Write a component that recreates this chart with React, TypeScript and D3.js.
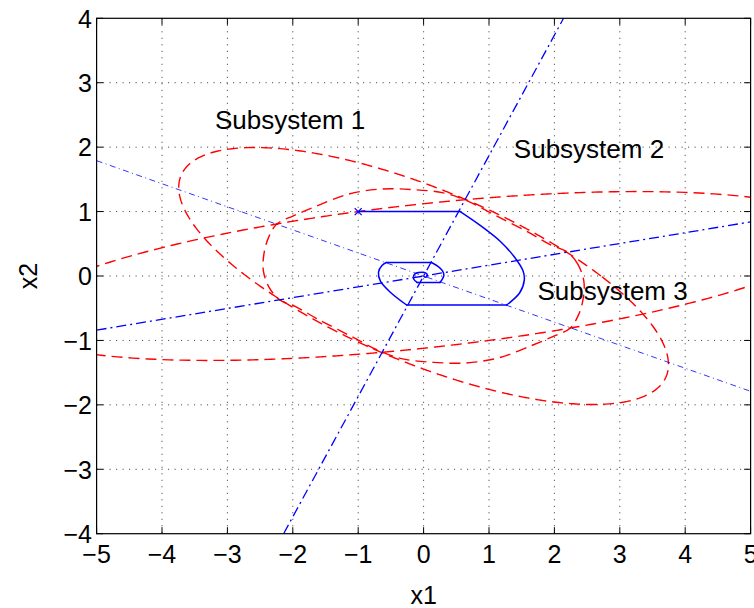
import React from 'react';
import * as d3 from 'd3';

const W = 754;
const H = 608;

// axis ticks
const xTicks = [-5, -4, -3, -2, -1, 0, 1, 2, 3, 4, 5];
const yTicks = [-4, -3, -2, -1, 0, 1, 2, 3, 4];

// switching lines through the origin (end points in state coordinates)
const switchLine1 = [[-5, 1.79], [5, -1.79]];
const switchLine2 = [[-5, -0.84], [5, 0.84]];
const switchLine3 = [[-2.14, -4], [2.14, 4]];

// level sets a*x1^2 + 2*b*x1*x2 + c*x2^2 = 1, coefficients [a, b, c]
const levelSetA = [0.136, 0.176, 0.479];
const levelSetB = [0.0342, -0.0853, 0.795];

// piecewise level set, traced around the origin
const levelSetC = [
  [2.45, -0.08], [2.36, 0.18], [2.2, 0.37], [1.95, 0.48], [1.6, 0.68], [1.1, 0.94],
  [0.66, 1.17], [0.3, 1.29], [-0.15, 1.34], [-0.65, 1.35], [-1.15, 1.27], [-1.65, 1.08],
  [-2.0, 0.93], [-2.24, 0.81], [-2.37, 0.6], [-2.44, 0.35], [-2.45, 0.08], [-2.36, -0.18],
  [-2.2, -0.37], [-1.95, -0.48], [-1.6, -0.68], [-1.1, -0.94], [-0.66, -1.17], [-0.3, -1.29],
  [0.15, -1.34], [0.65, -1.35], [1.15, -1.27], [1.65, -1.08], [2.0, -0.93], [2.24, -0.81],
  [2.37, -0.6], [2.44, -0.35],
];

// state trajectory from x0 = (-1, 1), split into straight runs and arcs
const trajStart = [-1, 1];
const trajPieces = [
  [[-1, 1], [0.56, 1.0]],
  [[0.56, 1.0], [0.86, 0.79], [1.17, 0.54], [1.4, 0.28], [1.52, 0.08], [1.54, -0.06], [1.47, -0.26], [1.27, -0.45]],
  [[1.27, -0.45], [-0.26, -0.45]],
  [[-0.26, -0.45], [-0.5, -0.26], [-0.66, -0.08], [-0.69, 0.06], [-0.64, 0.16], [-0.57, 0.21]],
  [[-0.57, 0.21], [0.12, 0.21]],
  [[0.12, 0.21], [0.22, 0.15], [0.29, 0.08], [0.31, 0.01], [0.28, -0.06], [0.25, -0.1]],
  [[0.25, -0.1], [-0.1, -0.1]],
  [[-0.1, -0.1], [-0.15, -0.05], [-0.15, 0.01], [-0.1, 0.05], [-0.03, 0.06], [0.03, 0.05], [0.06, 0.01], [0.03, -0.02], [0.0, 0.0]],
];

// region annotations (text start and baseline, state coordinates)
const regionNames = ['Subsystem 1', 'Subsystem 2', 'Subsystem 3'];
const regionX = [-3.19, 1.38, 1.74];
const regionY = [2.28, 1.83, -0.37];

const FONT = "'Liberation Sans', Arial, Helvetica, sans-serif";

function conicPoints(coef: number[], n = 720): number[][] {
  const [a, b, c] = coef;
  return d3.range(n).map((i) => {
    const t = (2 * Math.PI * i) / n;
    const u = Math.cos(t);
    const v = Math.sin(t);
    const r = 1 / Math.sqrt(a * u * u + 2 * b * u * v + c * v * v);
    return [r * u, r * v];
  });
}

export default function App() {
  const x = d3.scaleLinear().domain([-5, 5]).range([96.6, 750.6]);
  const y = d3.scaleLinear().domain([-4, 4]).range([533.7, 18.3]);
  const [x0, x1] = x.range();
  const [y1, y0] = y.range();

  const lin = d3.line<number[]>().x((d) => x(d[0])).y((d) => y(d[1]));
  const closedLin = d3.line<number[]>().x((d) => x(d[0])).y((d) => y(d[1])).curve(d3.curveLinearClosed);
  const closedSmooth = d3
    .line<number[]>()
    .x((d) => x(d[0]))
    .y((d) => y(d[1]))
    .curve(d3.curveCatmullRomClosed.alpha(0.5));
  const smooth = d3
    .line<number[]>()
    .x((d) => x(d[0]))
    .y((d) => y(d[1]))
    .curve(d3.curveCatmullRom.alpha(0.5));

  const tickLen = 6.5;
  const red = '#ff0000';
  const blue = '#0000ff';
  const redDash = '11,6';

  const sx = x(trajStart[0]);
  const sy = y(trajStart[1]);
  const m = 3.5;

  return (
    <svg
      width={W}
      height={H}
      viewBox={`0 0 ${W} ${H}`}
      style={{ position: 'absolute', left: 0, top: 0, background: '#fff' }}
    >
      <defs>
        <clipPath id="plotArea">
          <rect x={x0} y={y0} width={x1 - x0} height={y1 - y0} />
        </clipPath>
      </defs>
      <rect x={0} y={0} width={W} height={H} fill="#fff" />

      {/* grid */}
      <g stroke="#333" strokeWidth={1} strokeDasharray="1,5.5">
        {xTicks.slice(1, -1).map((t) => (
          <line key={'gx' + t} x1={x(t)} x2={x(t)} y1={y0} y2={y1} />
        ))}
        {yTicks.slice(1, -1).map((t) => (
          <line key={'gy' + t} x1={x0} x2={x1} y1={y(t)} y2={y(t)} />
        ))}
      </g>

      <g clipPath="url(#plotArea)" fill="none">
        {/* level sets */}
        <path d={closedLin(conicPoints(levelSetA)) || ''} stroke={red} strokeWidth={1.4} strokeDasharray={redDash} />
        <path d={closedLin(conicPoints(levelSetB)) || ''} stroke={red} strokeWidth={1.4} strokeDasharray={redDash} />
        <path d={closedSmooth(levelSetC) || ''} stroke={red} strokeWidth={1.4} strokeDasharray={redDash} />

        {/* switching lines */}
        <path d={lin(switchLine1) || ''} stroke={blue} strokeWidth={0.8} strokeDasharray="6,3.5,1,3.5" />
        <path d={lin(switchLine2) || ''} stroke={blue} strokeWidth={1.3} strokeDasharray="10,4,2,4" />
        <path d={lin(switchLine3) || ''} stroke={blue} strokeWidth={1.3} strokeDasharray="10,4,2,4" />

        {/* trajectory */}
        {trajPieces.map((p, i) => (
          <path
            key={'tr' + i}
            d={(p.length > 2 ? smooth(p) : lin(p)) || ''}
            stroke={blue}
            strokeWidth={1.5}
            strokeLinecap="round"
            strokeLinejoin="round"
          />
        ))}
        <g stroke={blue} strokeWidth={1.2}>
          <line x1={sx - m} y1={sy - m} x2={sx + m} y2={sy + m} />
          <line x1={sx - m} y1={sy + m} x2={sx + m} y2={sy - m} />
        </g>
      </g>

      {/* box */}
      <rect x={x0} y={y0} width={x1 - x0} height={y1 - y0} fill="none" stroke="#000" strokeWidth={1.2} />

      {/* ticks */}
      <g stroke="#000" strokeWidth={1}>
        {xTicks.map((t) => (
          <g key={'tx' + t}>
            <line x1={x(t)} x2={x(t)} y1={y1} y2={y1 - tickLen} />
            <line x1={x(t)} x2={x(t)} y1={y0} y2={y0 + tickLen} />
          </g>
        ))}
        {yTicks.map((t) => (
          <g key={'ty' + t}>
            <line x1={x0} x2={x0 + tickLen} y1={y(t)} y2={y(t)} />
            <line x1={x1} x2={x1 - tickLen} y1={y(t)} y2={y(t)} />
          </g>
        ))}
      </g>

      {/* tick labels */}
      <g fontFamily={FONT} fontSize={25} fill="#000">
        {xTicks.map((t) => (
          <text key={'lx' + t} x={x(t)} y={563} textAnchor="middle">
            {t < 0 ? '\u2212' + Math.abs(t) : String(t)}
          </text>
        ))}
        {yTicks.map((t) => (
          <text key={'ly' + t} x={92} y={y(t) + 9.3} textAnchor="end">
            {t < 0 ? '\u2212' + Math.abs(t) : String(t)}
          </text>
        ))}
      </g>

      {/* axis titles */}
      <g fontFamily={FONT} fontSize={25} fill="#000">
        <text x={(x0 + x1) / 2} y={604} textAnchor="middle">x1</text>
        <text transform={`translate(37, ${(y0 + y1) / 2}) rotate(-90)`} textAnchor="middle">x2</text>
      </g>

      {/* region annotations */}
      <g fontFamily={FONT} fontSize={26} fill="#000">
        {regionNames.map((s, i) => (
          <text key={s} x={x(regionX[i])} y={y(regionY[i])}>
            {s}
          </text>
        ))}
      </g>
    </svg>
  );
}
